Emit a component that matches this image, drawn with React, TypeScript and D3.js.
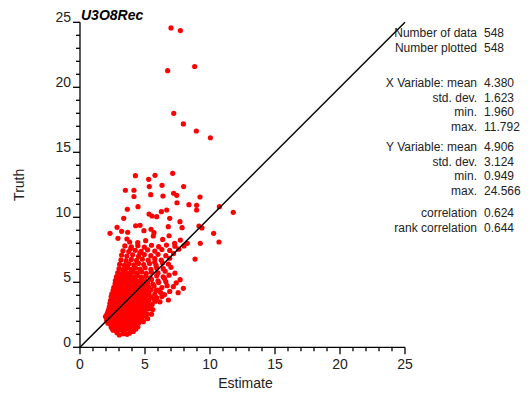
import React from "react";
import * as d3 from "d3";

const WIDTH = 530;
const HEIGHT = 394;

const title = "U3O8Rec";
const xLabel = "Estimate";
const yLabel = "Truth";
const axisDomain: [number, number] = [0, 25];
const majorTicks = [0, 5, 10, 15, 20, 25];
const minorTicks = d3.range(0, 26);

// Summary statistics, grouped into blocks
const statGroups: { label: string; value: string }[][] = [
  [
    { label: "Number of data", value: "548" },
    { label: "Number plotted", value: "548" },
  ],
  [
    { label: "X Variable: mean", value: "4.380" },
    { label: "std. dev.", value: "1.623" },
    { label: "min.", value: "1.960" },
    { label: "max.", value: "11.792" },
  ],
  [
    { label: "Y Variable: mean", value: "4.906" },
    { label: "std. dev.", value: "3.124" },
    { label: "min.", value: "0.949" },
    { label: "max.", value: "24.566" },
  ],
  [
    { label: "correlation", value: "0.624" },
    { label: "rank correlation", value: "0.644" },
  ],
];

// High-grade samples (estimate, truth)
const highValues: [number, number][] = [
  [7.0, 24.57], [7.72, 24.36], [6.74, 21.28], [8.82, 21.6], [7.21, 18.0],
  [7.95, 17.18], [8.95, 16.64], [10.03, 16.12], [4.26, 13.2], [5.77, 13.23],
  [7.13, 13.38], [5.28, 12.92], [5.33, 12.36], [6.31, 12.46], [7.97, 12.36],
  [3.49, 12.08], [4.15, 12.08], [4.15, 11.6], [5.44, 11.74], [6.38, 11.64],
  [7.2, 11.85], [7.44, 11.69], [9.23, 11.56],
];

// Samples between roughly 8 and 11 in truth
const upperValues: [number, number][] = [
  [3.64, 10.62], [4.46, 10.82], [7.46, 11.12], [8.38, 10.97], [8.97, 10.92],
  [8.97, 10.56], [10.72, 10.82], [11.79, 10.38], [5.31, 10.25], [3.36, 9.92],
  [5.54, 10.1], [5.9, 10.05], [6.26, 10.43], [6.67, 10.56], [6.9, 9.92],
  [7.69, 9.66], [4.28, 9.35], [4.62, 9.38], [2.85, 9.23], [3.2, 8.92],
  [2.31, 8.77], [3.67, 8.85], [4.92, 8.97], [5.46, 9.08], [5.69, 8.82],
  [6.79, 9.28], [7.85, 9.2], [9.15, 9.33], [9.38, 9.18], [2.92, 8.38],
  [3.61, 8.33], [3.82, 8.1], [4.44, 8.05], [5.05, 8.2], [5.64, 8.56],
  [6.36, 8.3], [6.85, 8.58], [7.28, 8.0], [7.72, 8.25], [8.25, 8.0],
  [9.25, 8.0], [10.28, 8.77], [10.69, 8.1],
];

// Middle band, truth roughly 5.3 to 8
const middleValues: [number, number][] = [
  [2.8, 5.42], [3.08, 5.36], [3.35, 5.46], [3.62, 5.38], [3.88, 5.48], [4.15, 5.4],
  [4.42, 5.5], [4.7, 5.38], [5.05, 5.46], [5.4, 5.34], [5.9, 5.5], [6.4, 5.42], [6.85, 5.55],
  [2.9, 5.72], [3.2, 5.66], [3.5, 5.76], [3.8, 5.68], [4.1, 5.78], [4.4, 5.7],
  [4.75, 5.8], [5.1, 5.68], [5.5, 5.78], [6.0, 5.72], [6.55, 5.85], [7.3, 5.7],
  [3.0, 6.05], [3.3, 5.98], [3.62, 6.08], [3.95, 6.0], [4.28, 6.1], [4.62, 6.02],
  [5.0, 6.12], [5.45, 6.0], [5.9, 6.1], [6.4, 6.05], [7.0, 6.15],
  [3.05, 6.38], [3.42, 6.32], [3.78, 6.42], [4.15, 6.34], [4.5, 6.45], [4.9, 6.36],
  [5.35, 6.44], [5.85, 6.3], [6.35, 6.48], [6.8, 6.4],
  [3.15, 6.72], [3.55, 6.66], [3.95, 6.76], [4.35, 6.68], [4.8, 6.78], [5.25, 6.7],
  [5.75, 6.82], [6.25, 6.7], [6.9, 6.85], [8.85, 6.79],
  [3.2, 7.1], [3.6, 7.02], [4.05, 7.12], [4.5, 7.0], [4.95, 7.14], [5.45, 7.05],
  [6.0, 7.15], [6.6, 7.05], [7.2, 7.2],
  [3.3, 7.42], [3.75, 7.36], [4.25, 7.46], [4.7, 7.38], [5.2, 7.5], [5.75, 7.4],
  [6.3, 7.52], [6.9, 7.45], [7.6, 7.55],
  [3.45, 7.8], [3.95, 7.72], [4.45, 7.82], [4.95, 7.7], [5.5, 7.85], [6.05, 7.74],
  [6.65, 7.86], [7.3, 7.78], [8.0, 7.8],
  [6.5, 5.3], [5.75, 6.55], [4.6, 7.25], [3.9, 7.6], [3.65, 6.2],
];

// Main low-grade cluster, truth below about 5.3
const coreValues: [number, number][] = [
  [3.02, 0.949], [3.35, 1.05], [3.62, 1.0], [2.85, 1.12], [3.8, 1.08],
  [2.55, 1.32], [2.78, 1.25], [3.1, 1.35], [3.3, 1.28], [3.52, 1.38], [3.9, 1.3], [4.1, 1.22], [2.95, 1.42],
  [2.4, 1.55], [2.62, 1.6], [2.85, 1.52], [3.05, 1.63], [3.22, 1.5], [3.45, 1.58],
  [3.7, 1.55], [3.95, 1.62], [4.2, 1.5], [4.45, 1.58], [2.7, 1.7],
  [2.15, 1.85], [2.35, 1.78], [2.55, 1.9], [2.75, 1.82], [2.98, 1.88], [3.15, 1.76],
  [3.38, 1.84], [3.6, 1.9], [3.82, 1.78], [4.05, 1.86], [4.3, 1.8], [4.55, 1.9], [4.87, 1.97],
  [2.05, 2.1], [2.25, 2.02], [2.45, 2.12], [2.62, 2.05], [2.85, 2.15], [3.05, 2.0], [3.25, 2.1],
  [3.45, 2.04], [3.65, 2.15], [3.88, 2.06], [4.1, 2.12], [4.32, 2.02], [4.6, 2.14], [4.78, 2.2],
  [1.96, 2.36], [2.18, 2.3], [2.38, 2.4], [2.58, 2.28], [2.8, 2.38], [3.0, 2.3], [3.2, 2.42],
  [3.42, 2.32], [3.62, 2.4], [3.85, 2.3], [4.05, 2.44], [4.28, 2.34], [4.52, 2.42], [4.75, 2.35], [5.0, 2.45],
  [2.1, 2.6], [2.3, 2.55], [2.5, 2.66], [2.7, 2.58], [2.9, 2.64], [3.1, 2.55], [3.3, 2.68],
  [3.5, 2.58], [3.72, 2.65], [3.95, 2.56], [4.15, 2.68], [4.38, 2.6], [4.6, 2.7], [4.85, 2.62], [5.15, 2.58],
  [2.2, 2.88], [2.42, 2.82], [2.62, 2.92], [2.82, 2.84], [3.02, 2.9], [3.22, 2.8], [3.42, 2.94],
  [3.62, 2.86], [3.85, 2.92], [4.05, 2.82], [4.28, 2.95], [4.5, 2.86], [4.72, 2.92], [5.0, 2.84], [5.3, 2.96],
  [2.25, 3.12], [2.45, 3.05], [2.65, 3.18], [2.88, 3.1], [3.08, 3.2], [3.28, 3.06], [3.5, 3.16],
  [3.7, 3.08], [3.92, 3.2], [4.12, 3.1], [4.35, 3.22], [4.58, 3.12], [4.8, 3.2], [5.05, 3.1], [5.4, 3.18],
  [2.3, 3.38], [2.52, 3.32], [2.72, 3.42], [2.95, 3.35], [3.15, 3.45], [3.35, 3.3], [3.58, 3.42],
  [3.8, 3.34], [4.0, 3.46], [4.22, 3.36], [4.45, 3.44], [4.68, 3.32], [4.9, 3.4], [5.2, 3.36],
  [5.55, 3.3], [6.15, 3.5], [6.8, 3.64],
  [2.35, 3.62], [2.58, 3.58], [2.8, 3.68], [3.0, 3.6], [3.22, 3.7], [3.45, 3.58], [3.65, 3.68],
  [3.88, 3.6], [4.1, 3.72], [4.32, 3.62], [4.55, 3.7], [4.78, 3.6], [5.02, 3.68], [5.3, 3.62], [5.7, 3.7],
  [2.4, 3.9], [2.62, 3.84], [2.85, 3.94], [3.08, 3.86], [3.3, 3.96], [3.52, 3.84], [3.75, 3.92],
  [3.95, 3.82], [4.18, 3.95], [4.4, 3.86], [4.62, 3.96], [4.85, 3.84], [5.1, 3.94], [5.45, 3.88], [5.9, 3.82],
  [2.45, 4.12], [2.7, 4.08], [2.92, 4.18], [3.15, 4.1], [3.38, 4.2], [3.6, 4.06], [3.82, 4.16],
  [4.05, 4.08], [4.28, 4.2], [4.5, 4.1], [4.75, 4.18], [5.0, 4.06], [5.3, 4.15], [5.75, 4.1], [6.2, 4.22], [6.5, 4.05],
  [2.55, 4.38], [2.78, 4.32], [3.0, 4.42], [3.25, 4.34], [3.48, 4.45], [3.7, 4.3], [3.92, 4.4],
  [4.15, 4.32], [4.38, 4.44], [4.6, 4.36], [4.85, 4.46], [5.1, 4.34], [5.45, 4.42], [5.85, 4.38],
  [7.18, 4.66], [7.95, 4.54],
  [2.6, 4.62], [2.85, 4.58], [3.1, 4.68], [3.32, 4.6], [3.55, 4.7], [3.78, 4.58], [4.0, 4.66],
  [4.25, 4.56], [4.48, 4.7], [4.72, 4.6], [4.98, 4.68], [5.3, 4.62], [5.7, 4.72], [6.3, 4.6], [6.7, 4.74],
  [2.7, 4.9], [2.95, 4.84], [3.2, 4.94], [3.42, 4.86], [3.65, 4.96], [3.9, 4.84], [4.12, 4.92],
  [4.38, 4.86], [4.62, 4.96], [4.88, 4.88], [5.2, 4.95], [5.6, 4.86], [6.05, 4.98], [7.4, 4.95],
  [2.72, 5.14], [3.0, 5.08], [3.25, 5.2], [3.5, 5.1], [3.75, 5.22], [4.0, 5.12], [4.25, 5.2],
  [4.5, 5.08], [4.78, 5.18], [5.1, 5.1], [5.5, 5.22], [6.0, 5.12], [6.6, 5.05], [7.7, 5.2],
  [2.48, 1.44], [3.18, 1.46], [3.6, 1.42], [3.85, 1.46], [4.3, 1.4],
  [2.5, 1.7], [2.95, 1.72], [3.35, 1.7], [3.58, 1.74], [3.8, 1.68], [4.08, 1.72], [4.35, 1.7],
  [2.3, 1.96], [2.68, 1.98], [2.9, 1.94], [3.28, 1.98], [3.55, 1.96], [3.75, 2.0], [4.2, 1.96], [4.45, 2.0],
  [2.12, 2.22], [2.35, 2.2], [2.55, 2.24], [2.75, 2.2], [2.95, 2.24], [3.15, 2.2], [3.35, 2.24],
  [3.55, 2.2], [3.78, 2.24], [4.0, 2.2], [4.22, 2.24], [4.45, 2.2],
  [2.05, 2.48], [2.28, 2.46], [2.48, 2.5], [2.68, 2.46], [2.9, 2.5], [3.1, 2.45], [3.32, 2.5],
  [3.52, 2.46], [3.75, 2.5], [3.98, 2.46], [4.2, 2.5], [4.4, 2.47], [4.65, 2.5],
  [2.15, 2.74], [2.38, 2.72], [2.6, 2.76], [2.8, 2.72], [3.0, 2.76], [3.2, 2.72], [3.4, 2.76],
  [3.6, 2.72], [3.82, 2.77], [4.05, 2.72], [4.25, 2.76], [4.5, 2.73], [4.72, 2.78],
  [2.3, 3.0], [2.52, 2.98], [2.72, 3.02], [2.92, 2.98], [3.12, 3.02], [3.32, 2.98], [3.55, 3.02],
  [3.75, 2.98], [3.98, 3.03], [4.18, 2.98], [4.4, 3.02], [4.65, 3.0], [4.9, 3.03],
  [2.35, 3.25], [2.55, 3.22], [2.78, 3.27], [2.98, 3.22], [3.18, 3.27], [3.4, 3.22], [3.6, 3.26],
  [3.82, 3.22], [4.02, 3.28], [4.25, 3.22], [4.48, 3.26], [4.7, 3.23],
  [2.42, 3.5], [2.65, 3.48], [2.85, 3.52], [3.05, 3.48], [3.28, 3.53], [3.5, 3.48], [3.72, 3.52],
  [3.92, 3.48], [4.15, 3.53], [4.38, 3.48], [4.6, 3.52], [4.85, 3.5],
  [2.48, 3.76], [2.7, 3.73], [2.92, 3.78], [3.15, 3.73], [3.38, 3.78], [3.6, 3.73], [3.82, 3.78],
  [4.05, 3.74], [4.25, 3.78], [4.48, 3.73], [4.7, 3.78],
  [2.55, 4.0], [2.78, 3.98], [3.0, 4.02], [3.22, 3.98], [3.45, 4.03], [3.68, 3.98], [3.9, 4.02],
  [4.12, 3.98], [4.35, 4.03], [4.58, 3.98], [4.82, 4.02],
  [2.62, 4.26], [2.85, 4.24], [3.08, 4.28], [3.3, 4.24], [3.55, 4.28], [3.78, 4.24], [4.0, 4.28],
  [4.22, 4.24], [4.45, 4.28], [4.68, 4.24],
  [2.7, 4.52], [2.95, 4.5], [3.18, 4.54], [3.42, 4.5], [3.65, 4.54], [3.88, 4.5], [4.12, 4.54],
  [4.35, 4.5], [4.6, 4.54],
  [2.8, 4.78], [3.05, 4.75], [3.3, 4.8], [3.55, 4.76], [3.8, 4.8], [4.05, 4.75], [4.28, 4.8], [4.52, 4.76],
  [2.85, 5.02], [3.12, 5.0], [3.38, 5.04], [3.62, 5.0], [3.88, 5.04], [4.15, 5.0], [4.4, 5.04], [4.65, 5.0],
  [5.6, 2.9], [5.8, 3.55], [6.0, 4.4], [5.5, 2.55], [6.3, 3.9], [6.9, 4.3], [5.2, 2.2], [7.55, 4.2],
];

const samples: [number, number][] = [
  ...coreValues,
  ...middleValues,
  ...upperValues,
  ...highValues,
];

const FONT = "'Liberation Sans', Arial, Helvetica, sans-serif";

export default function App() {
  const plotLeft = 80;
  const plotRight = 405;
  const plotTop = 22.3;
  const plotBottom = 347.3;

  const x = d3.scaleLinear().domain(axisDomain).range([plotLeft, plotRight]);
  const y = d3.scaleLinear().domain(axisDomain).range([plotBottom, plotTop]);

  const majorLen = 7;
  const minorLen = 4;

  const diagonal = d3.line<number>()
    .x((d) => x(d))
    .y((d) => y(d))(axisDomain);

  // Stats block layout
  const labelRight = 477;
  const valueLeft = 484;
  const lineStep = 14.6;
  const groupStarts = [37, 87, 151, 217];

  return (
    <svg
      width={WIDTH}
      height={HEIGHT}
      style={{ position: "absolute", left: 0, top: 0, background: "#fff" }}
      fontFamily={FONT}
    >
      <rect width={WIDTH} height={HEIGHT} fill="#fff" />

      {/* data points */}
      <g fill="#ff0000">
        {samples.map(([ex, tr], i) => (
          <circle key={i} cx={x(ex)} cy={y(tr)} r={2.6} />
        ))}
      </g>

      {/* 45 degree reference line */}
      <path d={diagonal ?? ""} stroke="#000" strokeWidth={1.5} fill="none" />

      {/* axes */}
      <g stroke="#000" strokeWidth={1.3} fill="none">
        <line x1={plotLeft} x2={plotLeft} y1={plotTop} y2={plotBottom} />
        <line x1={plotLeft} x2={plotRight} y1={plotBottom} y2={plotBottom} />
        {minorTicks.map((t) => {
          const len = t % 5 === 0 ? majorLen : minorLen;
          return (
            <g key={t}>
              <line x1={plotLeft - len} x2={plotLeft} y1={y(t)} y2={y(t)} />
              <line x1={x(t)} x2={x(t)} y1={plotBottom} y2={plotBottom + len} />
            </g>
          );
        })}
      </g>

      {/* tick labels */}
      <g fontSize={14} fill="#222">
        {majorTicks.map((t) => (
          <text key={"y" + t} x={plotLeft - 9} y={y(t)} textAnchor="end">
            {t}
          </text>
        ))}
        {majorTicks.map((t) => (
          <text key={"x" + t} x={x(t)} y={plotBottom + 22} textAnchor="middle">
            {t}
          </text>
        ))}
      </g>

      {/* axis titles */}
      <text x={(plotLeft + plotRight) / 2 + 3} y={388} fontSize={14} textAnchor="middle" fill="#222">
        {xLabel}
      </text>
      <text
        transform={`translate(24, ${(plotTop + plotBottom) / 2}) rotate(-90)`}
        fontSize={14}
        textAnchor="middle"
        fill="#222"
      >
        {yLabel}
      </text>

      {/* title */}
      <text x={81} y={20} fontSize={14} fontWeight="bold" fontStyle="italic" fill="#000">
        {title}
      </text>

      {/* statistics */}
      <g fontSize={12} fill="#222">
        {statGroups.map((group, gi) =>
          group.map((row, ri) => {
            const yy = groupStarts[gi] + ri * lineStep;
            return (
              <g key={gi + "-" + ri}>
                <text x={labelRight} y={yy} textAnchor="end">
                  {row.label}
                </text>
                <text x={valueLeft} y={yy}>
                  {row.value}
                </text>
              </g>
            );
          })
        )}
      </g>
    </svg>
  );
}
